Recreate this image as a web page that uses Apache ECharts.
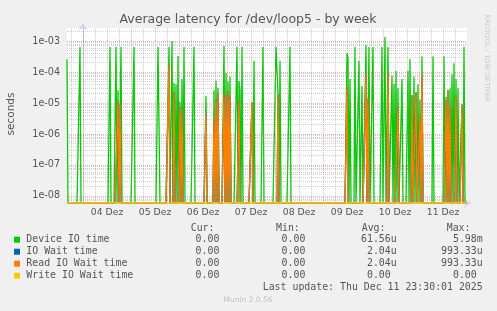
<!DOCTYPE html>
<html><head><meta charset="utf-8">
<script src="https://cdn.jsdelivr.net/npm/echarts@6/dist/echarts.min.js"></script>
<style>html,body{margin:0;padding:0;background:#F0F0F0;}#c{width:497px;height:311px;}</style>
</head><body><div id="c"></div>
<script>
// x values are hours counted from 04 Dez 00:00; samples every 30 min
const dayLabels = ['04 Dez','05 Dez','06 Dez','07 Dez','08 Dez','09 Dez','10 Dez','11 Dez'];
const dayNoonHours = [12,36,60,84,108,132,156,180];
const dayMidnightHours = [0,24,48,72,96,120,144,168];
const yTickValues = [1e-8,1e-7,1e-6,1e-5,1e-4,1e-3];
const X_MIN = -8, X_MAX = 192, STEP = 0.5;
const LOG_MIN = -8.226, LOG_MAX = -2.58;
const Y_MIN = Math.pow(10,LOG_MIN), Y_MAX = Math.pow(10,LOG_MAX);

const deviceHours = [-8,-1.5,13.5,16.5,17.5,19,25.5,37.5,38,43,44.5,45.5,46.5,47.5,48.5,49.5,50.5,55.5,
  61.5,65.5,66.5,67.5,70.5,71.5,72.5,73.5,77,78,78.5,79.5,84.5,85.5,90,96.5,97,97.5,98.5,103.5,
  132,132.5,133.5,136,138,139.5,141.5,143,145,149.5,151,152.5,154.5,155.5,156.5,157.5,159.5,
  162.5,163.5,164.5,165.5,166.5,167.5,168.5,169.5,175,180.5,181.5,182.5,183.5,184.5,185.5,186.5,187.5,189.5,190.5];
const deviceValues = [2.6e-4,6.4e-4,6.4e-4,6.4e-4,2.6e-5,6.4e-4,6.4e-4,6.4e-4,6.4e-4,6.4e-4,1e-3,4.5e-5,4e-5,3.3e-4,1.1e-5,5.9e-5,6.4e-4,6.4e-4,
  1.7e-5,2.6e-5,5.1e-5,3.1e-5,6.9e-4,9.3e-5,4.9e-5,7e-5,6.4e-4,5.1e-5,2.6e-5,6.4e-4,1.05e-5,2.3e-4,6.4e-4,6.4e-4,6.4e-4,2e-5,2.3e-4,6.4e-4,
  4.1e-4,2.8e-4,5.9e-5,6.4e-4,2.3e-4,3.6e-5,7.4e-4,6.4e-4,6.4e-4,6.4e-4,1.35e-3,6.4e-4,7.6e-5,4.1e-5,1.1e-4,3e-5,5.9e-5,
  1.1e-4,2.6e-4,1.8e-5,7e-5,2.2e-5,4e-5,1.3e-5,3.2e-4,3.2e-4,3.2e-4,1.6e-5,2.6e-5,3e-5,8.4e-5,1.9e-4,6e-5,3e-5,9e-6,6.4e-4];
const readHours = [17.5,18.5,43,45.5,48.5,49.5,61.5,65.5,66.5,67.5,70.5,71.5,72.5,73.5,78,84.5,97.5,
  132,141.5,142.5,152.5,157.5,164.5,166.5,168.5,169.5,181.5,182.5,183.5,186.5,189.5];
const readValues = [1.2e-5,9e-6,1.7e-4,2.3e-5,7.6e-6,5.9e-6,4.7e-6,3.2e-6,1.3e-5,2e-5,1.9e-5,1.7e-5,2.4e-5,1.7e-5,1.2e-5,1.05e-5,1.9e-5,
  3.4e-5,8.4e-5,1.4e-5,8.4e-5,7.6e-6,1.8e-5,2.2e-5,3.2e-6,8e-5,1.2e-5,2.6e-5,7.6e-6,1.7e-5,9e-6];
const ioWaitHours = readHours, ioWaitValues = readValues;
const writeHours = [], writeValues = [];

const seriesNames = ['Device IO time','IO Wait time','Read IO Wait time','Write IO Wait time'];
const seriesColors = ['#00CC00','#0066B3','#FF8000','#FFCC00'];
const curVals = ['0.00 ','0.00 ','0.00 ','0.00 '];
const minVals = ['0.00 ','0.00 ','0.00 ','0.00 '];
const avgVals = ['61.56u','2.04u','2.04u','0.00 '];
const maxVals = ['5.98m','993.33u','993.33u','0.00 '];
const lastUpdate = 'Last update: Thu Dec 11 23:30:01 2025';

function build(hours, values){
  const m = new Map();
  hours.forEach((h,i)=>m.set(h, values[i]));
  const out = [];
  const n = Math.round((X_MAX - X_MIN)/STEP);
  for(let i=0;i<=n;i++){
    const h = X_MIN + i*STEP;
    const v = m.get(h);
    out.push([h, v > 0 ? v : Y_MIN]);
  }
  return out;
}

const MONO = '"DejaVu Sans Mono", monospace';
const SANS = '"DejaVu Sans", sans-serif';
const gridRed = 'rgba(222,79,79,0.42)';
const gridGray = 'rgba(143,143,143,0.42)';

const vLines = [];
for(let h=-6; h<X_MAX; h+=6){
  const major = dayMidnightHours.indexOf(h) >= 0;
  vLines.push({xAxis:h, lineStyle:{color: major?gridRed:gridGray, type:[1,1], width:1}});
}
// horizontal log grid, placed on a hidden helper axis measured in log10 units
const hLines = [];
for(let e=-9;e<=-3;e++){
  for(let k=1;k<=9;k++){
    const lv = Math.log10(k) + e;
    if(lv>LOG_MIN && lv<LOG_MAX) hLines.push({yAxis:lv, lineStyle:{color: k===1?gridRed:gridGray, type:[1,1], width:1}});
  }
}

const dataSeries = [[deviceHours,deviceValues],[ioWaitHours,ioWaitValues],[readHours,readValues],[writeHours,writeValues]].map((d,i)=>({
  name: seriesNames[i], type:'line', data: build(d[0],d[1]), showSymbol:false, symbol:'none', yAxisIndex:0,
  lineStyle:{color:seriesColors[i], width:1.3}, itemStyle:{color:seriesColors[i]}, clip:true, z:3+i, silent:true, animation:false
}));

const graphic = [
  {type:'text', x:248, y:19.5, style:{text:'Average latency for /dev/loop5 - by week', fill:'#555', fontSize:12.5, fontFamily:SANS, align:'center', verticalAlign:'middle'}},
  {type:'text', x:11, y:114, rotation:Math.PI/2, style:{text:'seconds', fill:'#555', fontSize:10.5, fontFamily:SANS, align:'center', verticalAlign:'middle'}},
  {type:'text', x:487, y:58, rotation:-Math.PI/2, style:{text:'RRDTOOL / TOBI OETIKER', fill:'#c8c8c8', fontSize:6.8, fontFamily:SANS, align:'center', verticalAlign:'middle'}},
  {type:'text', x:248, y:300, style:{text:'Munin 2.0.56', fill:'#c0c0c0', fontSize:7.5, fontFamily:SANS, align:'center', verticalAlign:'middle'}}
];
const hdr = [['Cur:',190.7],['Min:',276],['Avg:',361.7],['Max:',446.7]];
hdr.forEach(h=>graphic.push({type:'text', x:h[1], y:228, style:{text:h[0], fill:'#555', fontSize:9.9, fontFamily:MONO, align:'left', verticalAlign:'middle'}}));
seriesNames.forEach((nm,i)=>{
  const y = 239.7 + i*12;
  graphic.push({type:'rect', shape:{x:14, y:y-3, width:6, height:6}, style:{fill:seriesColors[i]}});
  graphic.push({type:'text', x:26.3, y:y, style:{text:nm, fill:'#555', fontSize:9.9, fontFamily:MONO, align:'left', verticalAlign:'middle'}});
  [[curVals,225.3],[minVals,311.3],[avgVals,396.7],[maxVals,482.7]].forEach(c=>{
    graphic.push({type:'text', x:c[1], y:y, style:{text:c[0][i], fill:'#555', fontSize:9.9, fontFamily:MONO, align:'right', verticalAlign:'middle'}});
  });
});
graphic.push({type:'text', x:482.7, y:287.7, style:{text:lastUpdate, fill:'#555', fontSize:9.9, fontFamily:MONO, align:'right', verticalAlign:'middle'}});

const chart = echarts.init(document.getElementById('c'), null, {renderer:'canvas'});
chart.setOption({
  backgroundColor:'#F0F0F0',
  animation:false,
  grid:{left:67, top:28, width:400, height:175, show:true, backgroundColor:'#FFFFFF', borderWidth:0},
  xAxis:{type:'value', min:X_MIN, max:X_MAX,
    axisLine:{show:true, lineStyle:{color:'#CFD6F8', width:1}, symbol:['none','arrow'], symbolSize:[7,7], symbolOffset:[0,4]},
    axisTick:{show:false}, splitLine:{show:false},
    axisLabel:{customValues:dayNoonHours, formatter:(v)=>{const i=dayNoonHours.indexOf(v); return i>=0?dayLabels[i]:'';}, color:'#555', fontSize:9.3, fontFamily:SANS, margin:5}
  },
  yAxis:[{type:'log', min:Y_MIN, max:Y_MAX, logBase:10,
    axisLine:{show:true, lineStyle:{color:'#CFD6F8', width:1}, symbol:['none','arrow'], symbolSize:[7,7], symbolOffset:[0,5]},
    axisTick:{show:false}, splitLine:{show:false}, minorSplitLine:{show:false},
    axisLabel:{customValues:yTickValues, formatter:(v)=>{const e=Math.round(Math.log10(v)); if(Math.abs(Math.log10(v)-e)>1e-6) return ''; return '1e-'+String(-e).padStart(2,'0');}, color:'#555', fontSize:9.6, fontFamily:SANS, margin:7}
  },{type:'value', min:LOG_MIN, max:LOG_MAX, show:false, splitLine:{show:false}}],
  series:[
    {type:'line', data:[], silent:true, z:1, yAxisIndex:0, markLine:{silent:true, symbol:['none','none'], label:{show:false}, animation:false, data:vLines}},
    {type:'line', data:[], silent:true, z:1, yAxisIndex:1, markLine:{silent:true, symbol:['none','none'], label:{show:false}, animation:false, data:hLines}}
  ].concat(dataSeries),
  graphic: graphic
});
</script></body></html>
